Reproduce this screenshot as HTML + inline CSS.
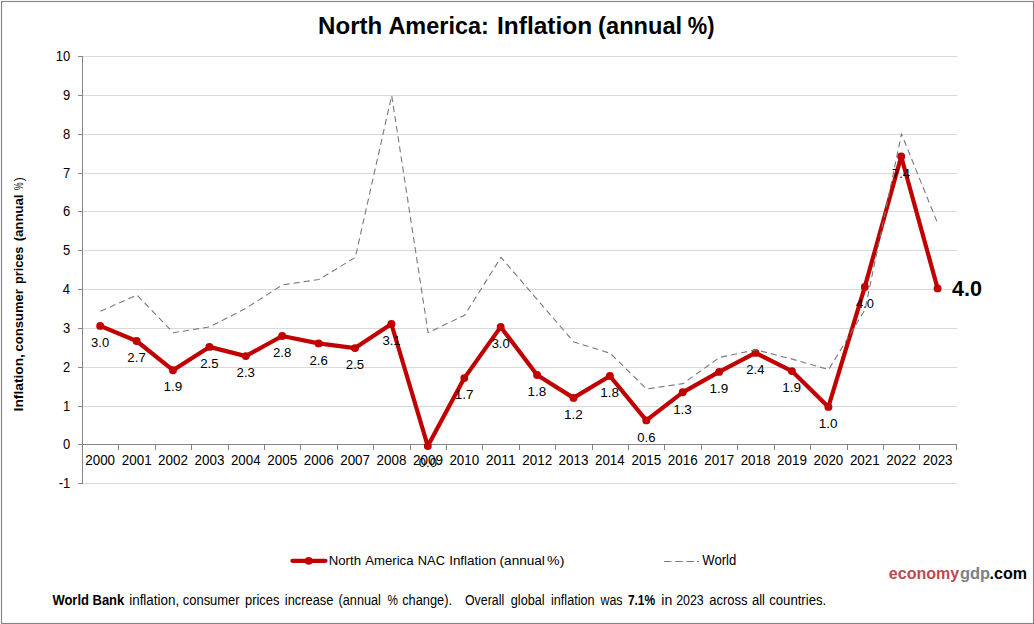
<!DOCTYPE html>
<html><head><meta charset="utf-8"><style>
html,body{margin:0;padding:0;background:#fff;width:1034px;height:624px;overflow:hidden;position:relative}
text{white-space:pre}
</style></head><body>
<svg width="1034" height="624" viewBox="0 0 1034 624" style="position:absolute;left:0;top:0" font-family='"Liberation Sans", sans-serif'><rect x="1.5" y="1.5" width="1032" height="622" fill="none" stroke="#858585" stroke-width="1.15"/><path d="M83 483.5H957 M83 406.5H957 M83 367.5H957 M83 328.5H957 M83 289.5H957 M83 250.5H957 M83 211.5H957 M83 173.5H957 M83 134.5H957 M83 95.5H957 M83 56.5H957" stroke="#D9D9D9" stroke-width="1" fill="none" shape-rendering="crispEdges"/><path d="M82.5 56V484 M78 483.5H82 M78 444.5H82 M78 406.5H82 M78 367.5H82 M78 328.5H82 M78 289.5H82 M78 250.5H82 M78 211.5H82 M78 173.5H82 M78 134.5H82 M78 95.5H82 M78 56.5H82 M82 444.5H957 M118.5 444.5V449.5 M155.5 444.5V449.5 M191.5 444.5V449.5 M228.5 444.5V449.5 M264.5 444.5V449.5 M300.5 444.5V449.5 M337.5 444.5V449.5 M373.5 444.5V449.5 M410.5 444.5V449.5 M446.5 444.5V449.5 M482.5 444.5V449.5 M519.5 444.5V449.5 M555.5 444.5V449.5 M592.5 444.5V449.5 M628.5 444.5V449.5 M664.5 444.5V449.5 M701.5 444.5V449.5 M737.5 444.5V449.5 M774.5 444.5V449.5 M810.5 444.5V449.5 M847.5 444.5V449.5 M883.5 444.5V449.5 M919.5 444.5V449.5 M956.5 444.5V449.5" stroke="#868686" stroke-width="1" fill="none" shape-rendering="crispEdges"/><text x="58.76" y="488.1" font-size="14" fill="#000" textLength="11.58" lengthAdjust="spacingAndGlyphs">-1</text><text x="62.97" y="449.1" font-size="14" fill="#000" textLength="7.24" lengthAdjust="spacingAndGlyphs">0</text><text x="63.09" y="411.1" font-size="14" fill="#000" textLength="7.24" lengthAdjust="spacingAndGlyphs">1</text><text x="63.11" y="372.1" font-size="14" fill="#000" textLength="7.24" lengthAdjust="spacingAndGlyphs">2</text><text x="63.03" y="333.1" font-size="14" fill="#000" textLength="7.24" lengthAdjust="spacingAndGlyphs">3</text><text x="62.84" y="294.1" font-size="14" fill="#000" textLength="7.24" lengthAdjust="spacingAndGlyphs">4</text><text x="63.01" y="255.1" font-size="14" fill="#000" textLength="7.24" lengthAdjust="spacingAndGlyphs">5</text><text x="63.03" y="216.1" font-size="14" fill="#000" textLength="7.24" lengthAdjust="spacingAndGlyphs">6</text><text x="63.11" y="178.1" font-size="14" fill="#000" textLength="7.24" lengthAdjust="spacingAndGlyphs">7</text><text x="63.02" y="139.1" font-size="14" fill="#000" textLength="7.24" lengthAdjust="spacingAndGlyphs">8</text><text x="63.08" y="100.1" font-size="14" fill="#000" textLength="7.24" lengthAdjust="spacingAndGlyphs">9</text><text x="55.73" y="61.1" font-size="14" fill="#000" textLength="14.48" lengthAdjust="spacingAndGlyphs">10</text><text x="85.29" y="465.2" font-size="14" fill="#000" textLength="29.80" lengthAdjust="spacingAndGlyphs">2000</text><text x="121.69" y="465.2" font-size="14" fill="#000" textLength="29.93" lengthAdjust="spacingAndGlyphs">2001</text><text x="158.10" y="465.2" font-size="14" fill="#000" textLength="29.95" lengthAdjust="spacingAndGlyphs">2002</text><text x="194.51" y="465.2" font-size="14" fill="#000" textLength="29.87" lengthAdjust="spacingAndGlyphs">2003</text><text x="230.93" y="465.2" font-size="14" fill="#000" textLength="29.66" lengthAdjust="spacingAndGlyphs">2004</text><text x="267.34" y="465.2" font-size="14" fill="#000" textLength="29.84" lengthAdjust="spacingAndGlyphs">2005</text><text x="303.74" y="465.2" font-size="14" fill="#000" textLength="29.87" lengthAdjust="spacingAndGlyphs">2006</text><text x="340.15" y="465.2" font-size="14" fill="#000" textLength="29.95" lengthAdjust="spacingAndGlyphs">2007</text><text x="376.56" y="465.2" font-size="14" fill="#000" textLength="29.86" lengthAdjust="spacingAndGlyphs">2008</text><text x="412.97" y="465.2" font-size="14" fill="#000" textLength="29.91" lengthAdjust="spacingAndGlyphs">2009</text><text x="449.39" y="465.2" font-size="14" fill="#000" textLength="29.80" lengthAdjust="spacingAndGlyphs">2010</text><text x="485.79" y="465.2" font-size="14" fill="#000" textLength="29.93" lengthAdjust="spacingAndGlyphs">2011</text><text x="522.20" y="465.2" font-size="14" fill="#000" textLength="29.95" lengthAdjust="spacingAndGlyphs">2012</text><text x="558.61" y="465.2" font-size="14" fill="#000" textLength="29.87" lengthAdjust="spacingAndGlyphs">2013</text><text x="595.03" y="465.2" font-size="14" fill="#000" textLength="29.66" lengthAdjust="spacingAndGlyphs">2014</text><text x="631.44" y="465.2" font-size="14" fill="#000" textLength="29.84" lengthAdjust="spacingAndGlyphs">2015</text><text x="667.84" y="465.2" font-size="14" fill="#000" textLength="29.87" lengthAdjust="spacingAndGlyphs">2016</text><text x="704.25" y="465.2" font-size="14" fill="#000" textLength="29.95" lengthAdjust="spacingAndGlyphs">2017</text><text x="740.66" y="465.2" font-size="14" fill="#000" textLength="29.86" lengthAdjust="spacingAndGlyphs">2018</text><text x="777.07" y="465.2" font-size="14" fill="#000" textLength="29.91" lengthAdjust="spacingAndGlyphs">2019</text><text x="813.49" y="465.2" font-size="14" fill="#000" textLength="29.80" lengthAdjust="spacingAndGlyphs">2020</text><text x="849.89" y="465.2" font-size="14" fill="#000" textLength="29.93" lengthAdjust="spacingAndGlyphs">2021</text><text x="886.30" y="465.2" font-size="14" fill="#000" textLength="29.95" lengthAdjust="spacingAndGlyphs">2022</text><text x="922.71" y="465.2" font-size="14" fill="#000" textLength="29.87" lengthAdjust="spacingAndGlyphs">2023</text><polyline points="100.2,325.9 136.6,341.0 173.0,370.2 209.4,346.9 245.8,356.1 282.2,336.0 318.6,343.4 355.0,348.1 391.4,324.0 427.8,446.1 464.3,378.1 500.7,326.9 537.1,375.0 573.5,397.9 609.9,376.0 646.3,420.4 682.7,392.3 719.1,371.9 755.5,352.9 791.9,371.1 828.4,406.9 864.8,286.9 901.2,156.5 937.6,288.4" fill="none" stroke="#C00000" stroke-width="4.2" stroke-linejoin="round"/><circle cx="100.2" cy="325.9" r="3.95" fill="#C00000"/><circle cx="136.6" cy="341.0" r="3.95" fill="#C00000"/><circle cx="173.0" cy="370.2" r="3.95" fill="#C00000"/><circle cx="209.4" cy="346.9" r="3.95" fill="#C00000"/><circle cx="245.8" cy="356.1" r="3.95" fill="#C00000"/><circle cx="282.2" cy="336.0" r="3.95" fill="#C00000"/><circle cx="318.6" cy="343.4" r="3.95" fill="#C00000"/><circle cx="355.0" cy="348.1" r="3.95" fill="#C00000"/><circle cx="391.4" cy="324.0" r="3.95" fill="#C00000"/><circle cx="427.8" cy="446.1" r="3.95" fill="#C00000"/><circle cx="464.3" cy="378.1" r="3.95" fill="#C00000"/><circle cx="500.7" cy="326.9" r="3.95" fill="#C00000"/><circle cx="537.1" cy="375.0" r="3.95" fill="#C00000"/><circle cx="573.5" cy="397.9" r="3.95" fill="#C00000"/><circle cx="609.9" cy="376.0" r="3.95" fill="#C00000"/><circle cx="646.3" cy="420.4" r="3.95" fill="#C00000"/><circle cx="682.7" cy="392.3" r="3.95" fill="#C00000"/><circle cx="719.1" cy="371.9" r="3.95" fill="#C00000"/><circle cx="755.5" cy="352.9" r="3.95" fill="#C00000"/><circle cx="791.9" cy="371.1" r="3.95" fill="#C00000"/><circle cx="828.4" cy="406.9" r="3.95" fill="#C00000"/><circle cx="864.8" cy="286.9" r="3.95" fill="#C00000"/><circle cx="901.2" cy="156.5" r="3.95" fill="#C00000"/><circle cx="937.6" cy="288.4" r="3.95" fill="#C00000"/><polyline points="100.5,311.3 136.9,295.0 173.3,332.7 209.7,326.9 246.1,308.2 282.5,284.9 318.9,279.5 355.3,257.4 391.7,95.5 428.1,332.7 464.6,315.2 501.0,257.4 537.4,299.7 573.8,342.0 610.2,353.3 646.6,389.0 683.0,383.6 719.4,357.5 755.8,349.8 792.2,359.1 828.7,369.6 865.1,309.4 901.5,133.9 937.9,224.0" fill="none" stroke="#7a7a7a" stroke-width="1.1" stroke-dasharray="6.2 4" stroke-linejoin="round"/><text x="91.12" y="347.1" font-size="13.6" fill="#000" textLength="18.10" lengthAdjust="spacingAndGlyphs">3.0</text><text x="127.36" y="362.2" font-size="13.6" fill="#000" textLength="18.43" lengthAdjust="spacingAndGlyphs">2.7</text><text x="163.40" y="391.4" font-size="13.6" fill="#000" textLength="18.76" lengthAdjust="spacingAndGlyphs">1.9</text><text x="200.18" y="368.1" font-size="13.6" fill="#000" textLength="18.31" lengthAdjust="spacingAndGlyphs">2.5</text><text x="236.59" y="377.3" font-size="13.6" fill="#000" textLength="18.34" lengthAdjust="spacingAndGlyphs">2.3</text><text x="273.00" y="357.2" font-size="13.6" fill="#000" textLength="18.33" lengthAdjust="spacingAndGlyphs">2.8</text><text x="309.41" y="364.6" font-size="13.6" fill="#000" textLength="18.34" lengthAdjust="spacingAndGlyphs">2.6</text><text x="345.82" y="369.3" font-size="13.6" fill="#000" textLength="18.31" lengthAdjust="spacingAndGlyphs">2.5</text><text x="382.39" y="345.2" font-size="13.6" fill="#000" textLength="18.23" lengthAdjust="spacingAndGlyphs">3.1</text><text x="418.79" y="467.3" font-size="13.6" fill="#000" textLength="18.11" lengthAdjust="spacingAndGlyphs">0.0</text><text x="454.68" y="399.3" font-size="13.6" fill="#000" textLength="18.80" lengthAdjust="spacingAndGlyphs">1.7</text><text x="491.63" y="348.1" font-size="13.6" fill="#000" textLength="18.10" lengthAdjust="spacingAndGlyphs">3.0</text><text x="527.51" y="396.2" font-size="13.6" fill="#000" textLength="18.70" lengthAdjust="spacingAndGlyphs">1.8</text><text x="563.91" y="419.1" font-size="13.6" fill="#000" textLength="18.80" lengthAdjust="spacingAndGlyphs">1.2</text><text x="600.33" y="397.2" font-size="13.6" fill="#000" textLength="18.70" lengthAdjust="spacingAndGlyphs">1.8</text><text x="637.25" y="441.6" font-size="13.6" fill="#000" textLength="18.18" lengthAdjust="spacingAndGlyphs">0.6</text><text x="673.15" y="413.5" font-size="13.6" fill="#000" textLength="18.71" lengthAdjust="spacingAndGlyphs">1.3</text><text x="709.55" y="393.1" font-size="13.6" fill="#000" textLength="18.76" lengthAdjust="spacingAndGlyphs">1.9</text><text x="746.34" y="374.1" font-size="13.6" fill="#000" textLength="18.13" lengthAdjust="spacingAndGlyphs">2.4</text><text x="782.37" y="392.3" font-size="13.6" fill="#000" textLength="18.76" lengthAdjust="spacingAndGlyphs">1.9</text><text x="818.79" y="428.1" font-size="13.6" fill="#000" textLength="18.64" lengthAdjust="spacingAndGlyphs">1.0</text><text x="855.93" y="308.1" font-size="13.6" fill="#000" textLength="17.89" lengthAdjust="spacingAndGlyphs">4.0</text><text x="891.96" y="177.7" font-size="13.6" fill="#000" textLength="18.15" lengthAdjust="spacingAndGlyphs">7.4</text><text x="951.97" y="296" font-size="22" font-weight="bold" fill="#000" textLength="30.01" lengthAdjust="spacingAndGlyphs">4.0</text><text x="318.09" y="34" font-size="24" font-weight="bold" fill="#000" textLength="64.10" lengthAdjust="spacingAndGlyphs">North</text><text x="388.42" y="34" font-size="24" font-weight="bold" fill="#000" textLength="100.44" lengthAdjust="spacingAndGlyphs">America:</text><text x="497.06" y="34" font-size="24" font-weight="bold" fill="#000" textLength="95.05" lengthAdjust="spacingAndGlyphs">Inflation</text><text x="598.12" y="34" font-size="24" font-weight="bold" fill="#000" textLength="84.05" lengthAdjust="spacingAndGlyphs">(annual</text><text x="687.76" y="34" font-size="24" font-weight="bold" fill="#000" textLength="26.73" lengthAdjust="spacingAndGlyphs">%)</text><g transform="rotate(-90)"><text x="-411.42" y="23.2" font-size="13.6" font-weight="bold" fill="#000" textLength="57.34" lengthAdjust="spacingAndGlyphs">Inflation,</text><text x="-351.51" y="23.2" font-size="13.6" font-weight="bold" fill="#000" textLength="62.41" lengthAdjust="spacingAndGlyphs">consumer</text><text x="-284.04" y="23.2" font-size="13.6" font-weight="bold" fill="#000" textLength="37.36" lengthAdjust="spacingAndGlyphs">prices</text><text x="-241.36" y="23.2" font-size="13.6" font-weight="bold" fill="#000" textLength="46.79" lengthAdjust="spacingAndGlyphs">(annual</text><text x="-189.91" y="23.2" font-size="13.6" fill="#000" textLength="7.61" lengthAdjust="spacingAndGlyphs">%</text><text x="-181.27" y="23.2" font-size="13.6" fill="#000" textLength="3.89" lengthAdjust="spacingAndGlyphs">)</text></g><path d="M292.4 560.8H325.5" stroke="#C00000" stroke-width="4.2" stroke-linecap="round"/><circle cx="308.7" cy="560.8" r="3.9" fill="#C00000"/><text x="328.71" y="564.8" font-size="13.6" fill="#000" textLength="32.34" lengthAdjust="spacingAndGlyphs">North</text><text x="365.17" y="564.8" font-size="13.6" fill="#000" textLength="48.33" lengthAdjust="spacingAndGlyphs">America</text><text x="417.74" y="564.8" font-size="13.6" fill="#000" textLength="27.25" lengthAdjust="spacingAndGlyphs">NAC</text><text x="449.16" y="564.8" font-size="13.6" fill="#000" textLength="47.12" lengthAdjust="spacingAndGlyphs">Inflation</text><text x="499.56" y="564.8" font-size="13.6" fill="#000" textLength="45.35" lengthAdjust="spacingAndGlyphs">(annual</text><text x="547.10" y="564.8" font-size="13.6" fill="#000" textLength="17.28" lengthAdjust="spacingAndGlyphs">%)</text><path d="M664 561.5H696" stroke="#7a7a7a" stroke-width="1.1" stroke-dasharray="7.5 3.7"/><path d="M697 561.5H699" stroke="#7a7a7a" stroke-width="1.1"/><text x="702.34" y="565" font-size="13.9" fill="#000" textLength="34.00" lengthAdjust="spacingAndGlyphs">World</text><text x="888.87" y="578.8" font-size="16.7" font-weight="bold" fill="#BB4A52" textLength="70.41" lengthAdjust="spacingAndGlyphs">economy</text><text x="960.03" y="578.8" font-size="16.7" font-weight="bold" fill="#808080" textLength="30.15" lengthAdjust="spacingAndGlyphs">gdp</text><text x="989.61" y="578.8" font-size="16.7" font-weight="bold" fill="#000" textLength="37.49" lengthAdjust="spacingAndGlyphs">.com</text><text x="52.39" y="604.8" font-size="13.8" font-weight="bold" fill="#000" textLength="71.90" lengthAdjust="spacingAndGlyphs">World Bank</text><text x="129.20" y="604.8" font-size="13.8" fill="#000" textLength="50.00" lengthAdjust="spacingAndGlyphs">inflation,</text><text x="182.75" y="604.8" font-size="13.8" fill="#000" textLength="56.87" lengthAdjust="spacingAndGlyphs">consumer</text><text x="244.97" y="604.8" font-size="13.8" fill="#000" textLength="34.40" lengthAdjust="spacingAndGlyphs">prices</text><text x="284.84" y="604.8" font-size="13.8" fill="#000" textLength="48.53" lengthAdjust="spacingAndGlyphs">increase</text><text x="338.61" y="604.8" font-size="13.8" fill="#000" textLength="42.23" lengthAdjust="spacingAndGlyphs">(annual</text><text x="387.58" y="604.8" font-size="13.8" fill="#000" textLength="10.44" lengthAdjust="spacingAndGlyphs">%</text><text x="402.16" y="604.8" font-size="13.8" fill="#000" textLength="49.81" lengthAdjust="spacingAndGlyphs">change).</text><text x="465.02" y="604.8" font-size="13.8" fill="#000" textLength="39.11" lengthAdjust="spacingAndGlyphs">Overall</text><text x="510.77" y="604.8" font-size="13.8" fill="#000" textLength="33.88" lengthAdjust="spacingAndGlyphs">global</text><text x="550.95" y="604.8" font-size="13.8" fill="#000" textLength="43.67" lengthAdjust="spacingAndGlyphs">inflation</text><text x="600.42" y="604.8" font-size="13.8" fill="#000" textLength="22.13" lengthAdjust="spacingAndGlyphs">was</text><text x="627.89" y="604.8" font-size="13.8" font-weight="bold" fill="#000" textLength="27.23" lengthAdjust="spacingAndGlyphs">7.1%</text><text x="661.36" y="604.8" font-size="13.8" fill="#000" textLength="10.96" lengthAdjust="spacingAndGlyphs">in</text><text x="676.18" y="604.8" font-size="13.8" fill="#000" textLength="27.57" lengthAdjust="spacingAndGlyphs">2023</text><text x="709.15" y="604.8" font-size="13.8" fill="#000" textLength="38.32" lengthAdjust="spacingAndGlyphs">across</text><text x="751.95" y="604.8" font-size="13.8" fill="#000" textLength="13.02" lengthAdjust="spacingAndGlyphs">all</text><text x="769.14" y="604.8" font-size="13.8" fill="#000" textLength="57.16" lengthAdjust="spacingAndGlyphs">countries.</text></svg>
</body></html>
